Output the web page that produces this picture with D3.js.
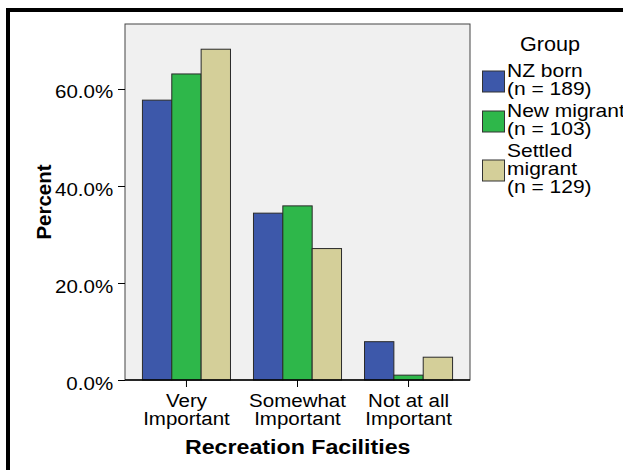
<!DOCTYPE html>
<html>
<head>
<meta charset="utf-8">
<script src="https://cdn.jsdelivr.net/npm/d3@7"></script>
<style>
  body { margin: 0; background: #fff; }
  text { font-family: "Liberation Sans", Arial, sans-serif; fill: #000; }
</style>
</head>
<body>
<script>
// categories on the x axis
const categories = ["Very Important", "Somewhat Important", "Not at all Important"];
// groups (series) and their percent values per category
const groups = ["NZ born", "New migrant", "Settled migrant"];
const nzBorn = [57.7, 34.4, 7.9];
const newMigrant = [63.1, 35.9, 1.0];
const settledMigrant = [68.2, 27.1, 4.7];
const colors = ["#3d58aa", "#2eb74a", "#d4cf99"];
// y tick values
const yTicks = [0, 20, 40, 60];
// legend text lines, as in the picture
const legendLines = [["NZ born", "(n = 189)"], ["New migrant", "(n = 103)"], ["Settled", "migrant", "(n = 129)"]];

const series = [nzBorn, newMigrant, settledMigrant];
const rows = categories.map((c, i) => ({
  cat: c,
  vals: groups.map((g, j) => ({ g: g, v: series[j][i], col: colors[j] }))
}));

const W = 623, H = 470;
const mLeft = 125, mRight = 470, mTop = 24, mBottom = 380;

const svg = d3.select("body").append("svg")
  .attr("width", W)
  .attr("height", H);

// outer frame (runs off the right and bottom edges)
svg.append("rect")
  .attr("x", 8).attr("y", 10)
  .attr("width", 700).attr("height", 600)
  .attr("fill", "#fff")
  .attr("stroke", "#000")
  .attr("stroke-width", 4);

//scales
const x0 = d3.scaleBand()
  .domain(categories)
  .range([mLeft, mRight])
  .paddingInner(0.207)
  .paddingOuter(0.157);

const x1 = d3.scaleBand()
  .domain(groups)
  .range([0, x0.bandwidth()]);

const y = d3.scaleLinear()
  .domain([0, 73.4])
  .range([mBottom, mTop]);

// plot background
svg.append("rect")
  .attr("x", mLeft).attr("y", mTop)
  .attr("width", mRight - mLeft).attr("height", mBottom - mTop)
  .attr("fill", "#f0f0f0")
  .attr("stroke", "#444")
  .attr("stroke-width", 1);

// bars
svg.append("g")
  .selectAll("g")
  .data(rows)
  .enter()
  .append("g")
  .attr("transform", d => `translate(${x0(d.cat)},0)`)
  .selectAll("rect")
  .data(d => d.vals)
  .enter()
  .append("rect")
  .attr("x", d => x1(d.g))
  .attr("y", d => y(d.v))
  .attr("width", x1.bandwidth())
  .attr("height", d => mBottom - y(d.v))
  .attr("fill", d => d.col)
  .attr("stroke", "#2a2a2a")
  .attr("stroke-width", 1);

// y axis
const yAxis = svg.append("g")
  .attr("transform", `translate(${mLeft},0)`)
  .call(d3.axisLeft(y)
    .tickValues(yTicks)
    .tickSize(7)
    .tickPadding(4)
    .tickFormat(d => d.toFixed(1) + "%"));
yAxis.select(".domain").remove();
yAxis.selectAll("line").attr("stroke", "#000");
yAxis.selectAll("text")
  .attr("dy", null)
  .attr("y", 9)
  .attr("font-size", 19)
  .attr("font-family", "Liberation Sans, Arial, sans-serif")
  .attr("transform", "scale(1.08,1)");

// x axis
const xAxis = svg.append("g")
  .attr("transform", `translate(0,${mBottom})`)
  .call(d3.axisBottom(x0).tickSize(7).tickSizeOuter(0).tickFormat(d => d));
xAxis.select(".domain")
  .attr("d", `M${mLeft},0H${mRight}`)
  .attr("stroke", "#000")
  .attr("stroke-width", 1.5);
xAxis.selectAll("line").attr("stroke", "#000");
xAxis.selectAll(".tick text").each(function(d) {
  const cut = d.lastIndexOf(" ");
  const lines = [d.slice(0, cut), d.slice(cut + 1)];
  const t = d3.select(this)
    .text(null)
    .attr("y", null).attr("dy", null)
    .attr("font-size", 19)
    .attr("font-family", "Liberation Sans, Arial, sans-serif")
    .attr("transform", "scale(1.08,1)");
  lines.forEach((l, i) => {
    t.append("tspan").attr("x", 0).attr("y", 27 + i * 18).text(l);
  });
});

// axis titles
svg.append("text")
  .attr("transform", "translate(297.7,454) scale(1.16,1)")
  .attr("text-anchor", "middle")
  .attr("font-size", 20)
  .attr("font-weight", "bold")
  .text("Recreation Facilities");

svg.append("text")
  .attr("transform", "translate(51,202) rotate(-90)")
  .attr("text-anchor", "middle")
  .attr("font-size", 20.5)
  .attr("font-weight", "bold")
  .text("Percent");

// legend
svg.append("text")
  .attr("transform", "translate(550,51) scale(1.08,1)")
  .attr("text-anchor", "middle")
  .attr("font-size", 20)
  .text("Group");

const lh = 18;
let yy = 77;
legendLines.forEach((lines, i) => {
  const blockTop = yy - 13;
  const blockBot = yy + (lines.length - 1) * lh + 4;
  const mid = (blockTop + blockBot) / 2;
  svg.append("rect")
    .attr("x", 482.5).attr("y", mid - 10.5)
    .attr("width", 22).attr("height", 21)
    .attr("fill", colors[i])
    .attr("stroke", "#333")
    .attr("stroke-width", 1);
  const t = svg.append("text")
    .attr("transform", `translate(507,${yy}) scale(1.2,1)`)
    .attr("font-size", 17.5);
  lines.forEach((l, k) => {
    t.append("tspan").attr("x", 0).attr("y", k * lh).text(l);
  });
  yy += (lines.length - 1) * lh + 22;
});
</script>
</body>
</html>
